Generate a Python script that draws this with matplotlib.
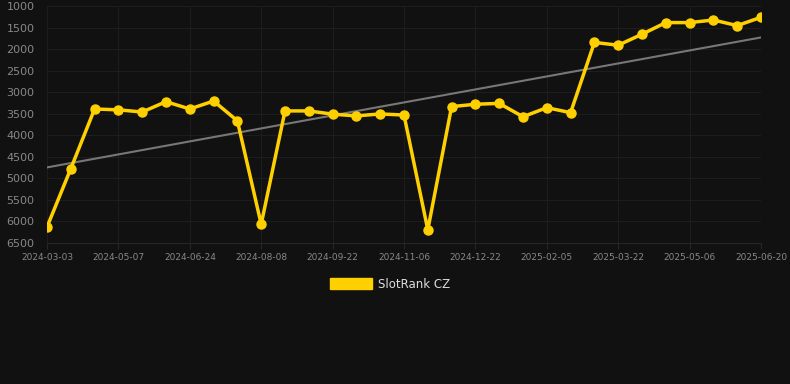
import numpy as np
import matplotlib
matplotlib.use("Agg")
import matplotlib.pyplot as plt
from matplotlib.patches import Patch

dates = ["2024-03-03", "2024-03-25", "2024-04-15", "2024-05-07", "2024-05-23", "2024-06-08",
         "2024-06-24", "2024-07-09", "2024-07-24", "2024-08-08", "2024-08-23", "2024-09-07",
         "2024-09-22", "2024-10-07", "2024-10-22", "2024-11-06", "2024-11-21", "2024-12-07",
         "2024-12-22", "2025-01-06", "2025-01-21", "2025-02-05", "2025-02-20", "2025-03-07",
         "2025-03-22", "2025-04-06", "2025-04-21", "2025-05-06", "2025-05-21", "2025-06-05",
         "2025-06-20"]
rank = [6130, 4775, 3390, 3410, 3460, 3220, 3390, 3205, 3665, 6065,
        3435, 3435, 3510, 3550, 3505, 3530, 6195, 3335, 3280, 3260,
        3570, 3360, 3475, 1845, 1910, 1655, 1385, 1385, 1325, 1455, 1262]

BG = "#111111"
YELLOW = "#FFD000"

x = np.arange(len(dates))
fig = plt.figure(figsize=(7.9, 3.84), dpi=100, facecolor=BG)
ax = fig.add_axes([47 / 790, 1 - 243 / 384, 714 / 790, 237 / 384], facecolor=BG)

# trend line (least squares over the series)
k, b = np.polyfit(x, rank, 1)
ax.plot(x, k * x + b, color="#777777", lw=1.5, zorder=2)

ax.plot(x, rank, color=YELLOW, lw=2.5, marker="o", ms=6.5, zorder=3)

ax.set_xlim(0, len(dates) - 1)
ax.set_ylim(6500, 1000)
ax.set_yticks(np.arange(1000, 6501, 500))
ax.set_xticks(x[::3])
ax.set_xticklabels(dates[::3])

ax.grid(True, color="#1d1d1d", lw=0.8)
for s in ["top", "right", "left"]:
    ax.spines[s].set_visible(False)
ax.spines["bottom"].set_color("#262626")
ax.tick_params(axis="y", length=0, colors="#888888", labelsize=8, pad=9)
ax.tick_params(axis="x", length=4, color="#262626", colors="#888888", labelsize=6.5, pad=3)

fig.legend(handles=[Patch(color=YELLOW, label="SlotRank CZ")], loc="center",
           bbox_to_anchor=(390 / 790, 1 - 284 / 384), frameon=False, fontsize=8.5,
           labelcolor="#dddddd", handlelength=3.5, handleheight=1.0, handletextpad=0.5)

fig.savefig("out.png", dpi=100, facecolor=BG)
